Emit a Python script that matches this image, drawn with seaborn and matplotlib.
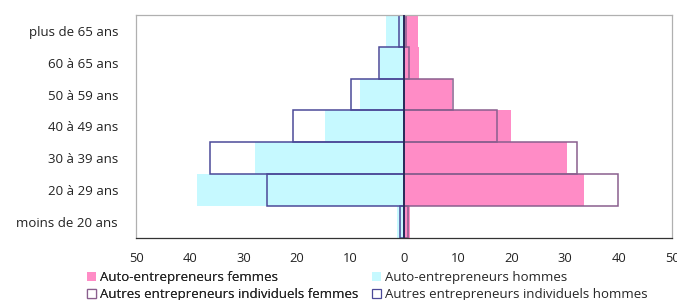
import matplotlib
matplotlib.use("Agg")
import matplotlib.pyplot as plt
import matplotlib.patches as mpatches
from matplotlib.ticker import FuncFormatter
import seaborn as sns
import pandas as pd

categories = ["plus de 65 ans", "60 à 65 ans", "50 à 59 ans", "40 à 49 ans",
              "30 à 39 ans", "20 à 29 ans", "moins de 20 ans"]
auto_femmes = [2.5, 2.8, 9.0, 20.0, 30.3, 33.6, 1.0]
auto_hommes = [3.3, 4.5, 8.3, 14.8, 27.9, 38.7, 1.3]
autres_femmes = [0.3, 0.9, 9.2, 17.4, 32.3, 39.9, 0.8]
autres_hommes = [0.9, 4.7, 9.9, 20.8, 36.3, 25.6, 0.8]
xticks = [-50, -40, -30, -20, -10, 0, 10, 20, 30, 40, 50]

PINK = "#ff8cc6"
CYAN = "#c6f9ff"
OUT_F = "#8a5f8e"
OUT_H = "#4c4a98"

sns.set_theme(style="white")
plt.rcParams["font.family"] = ["Open Sans", "DejaVu Sans"]

df = pd.DataFrame({
    "cat": categories,
    "af": auto_femmes,
    "ah": [-v for v in auto_hommes],
    "of": autres_femmes,
    "oh": [-v for v in autres_hommes],
})

fig = plt.figure(figsize=(6.77, 3.0), dpi=100)
ax = fig.add_axes([0.201, 0.208, 0.792, 0.742])

sns.barplot(data=df, x="af", y="cat", order=categories, orient="h", width=1.0,
            color=PINK, saturation=1, linewidth=0, ax=ax)
sns.barplot(data=df, x="ah", y="cat", order=categories, orient="h", width=1.0,
            color=CYAN, saturation=1, linewidth=0, ax=ax)
sns.barplot(data=df, x="of", y="cat", order=categories, orient="h", width=1.0,
            fill=False, edgecolor=OUT_F, linewidth=1.1, ax=ax)
sns.barplot(data=df, x="oh", y="cat", order=categories, orient="h", width=1.0,
            fill=False, edgecolor=OUT_H, linewidth=1.1, ax=ax)

ax.axvline(0, color="#2a2a5a", linewidth=1.4, zorder=5)
ax.set_xlim(-50, 50)
ax.set_ylim(len(categories) - 0.5, -0.5)
ax.set_xticks(xticks)
ax.xaxis.set_major_formatter(FuncFormatter(lambda v, p: f"{abs(int(round(v)))}"))
ax.set_xlabel("")
ax.set_ylabel("")
ax.tick_params(axis="x", labelsize=9.3, colors="#222222", length=5, width=0.8,
               direction="inout", pad=8)
ax.tick_params(axis="y", labelsize=9.5, colors="#222222", length=0, pad=13)

for side in ["left", "top", "right"]:
    ax.spines[side].set_color("#b0b0b0")
    ax.spines[side].set_linewidth(0.9)
ax.spines["bottom"].set_color("#333333")
ax.spines["bottom"].set_linewidth(0.9)

col1 = [
    mpatches.Patch(facecolor=PINK, edgecolor="none", label="Auto-entrepreneurs femmes"),
    mpatches.Patch(facecolor="white", edgecolor=OUT_F, linewidth=0.9,
                   label="Autres entrepreneurs individuels femmes"),
]
col2 = [
    mpatches.Patch(facecolor=CYAN, edgecolor="none", label="Auto-entrepreneurs hommes"),
    mpatches.Patch(facecolor="white", edgecolor=OUT_H, linewidth=0.9,
                   label="Autres entrepreneurs individuels hommes"),
]
common = dict(loc="lower left", frameon=False, fontsize=9.5, handlelength=0.7,
              handleheight=0.7, handletextpad=0.3, labelspacing=0.3,
              borderaxespad=0.0, borderpad=0.0)
leg1 = fig.legend(handles=col1, bbox_to_anchor=(0.128, -0.004), **common)
fig.add_artist(leg1)
fig.legend(handles=col2, bbox_to_anchor=(0.549, -0.004), **common)

fig.savefig("out.png", dpi=100)
